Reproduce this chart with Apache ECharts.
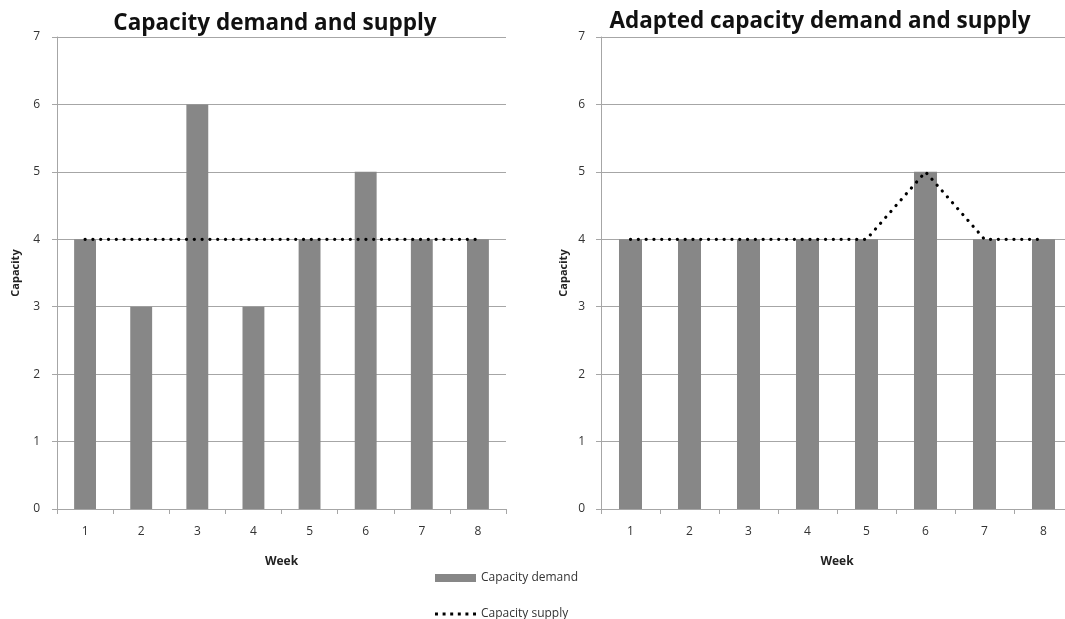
<!DOCTYPE html>
<html><head><meta charset="utf-8">
<script src="https://cdn.jsdelivr.net/npm/echarts@6/dist/echarts.min.js"></script>
<style>html,body{margin:0;padding:0;background:#fff}#c{width:1065px;height:619px}</style>
</head><body><div id="c"></div>
<script>
const weeks = ['1','2','3','4','5','6','7','8'];
const demandLeft = [4,3,6,3,4,5,4,4];
const supplyLeft = [4,4,4,4,4,4,4,4];
const demandRight = [4,4,4,4,4,5,4,4];
const supplyRight = [4,4,4,4,4,5,4,4];
const titleLeft = 'Capacity demand and supply';
const titleRight = 'Adapted capacity demand and supply';

const FONT = '"Open Sans", "DejaVu Sans", sans-serif';
const gridColor = '#a6a6a6';
function xAxis(i){
  return {type:'category', gridIndex:i, data:weeks, boundaryGap:true,
    name:'Week', nameLocation:'middle', nameGap:47,
    nameTextStyle:{fontFamily:FONT, fontWeight:'bold', fontSize:12, color:'#222'},
    axisLine:{lineStyle:{color:gridColor, width:1}},
    axisTick:{show:true, length:5, lineStyle:{color:gridColor}},
    axisLabel:{fontFamily:FONT, fontSize:12, color:'#333', margin:17}};
}
function yAxis(i){
  return {type:'value', gridIndex:i, min:0, max:7, interval:1,
    name:'Capacity', nameLocation:'middle', nameGap:i===0?36:32, nameRotate:90,
    nameTextStyle:{fontFamily:FONT, fontWeight:'bold', fontSize:11, color:'#222'},
    axisLine:{show:true, lineStyle:{color:gridColor, width:1}},
    axisTick:{show:true, length:5, lineStyle:{color:gridColor}},
    splitLine:{lineStyle:{color:gridColor, width:1}},
    axisLabel:{fontFamily:FONT, fontSize:12, color:'#333', margin:i===0?17:16}};
}
const barStyle = {color:'#878787'};
const lineStyle = {color:'#000', width:3.2, type:[0.1,7.7], cap:'round'};
const dotsIcon = 'path://M0,0h3v3h-3z M7.7,0h3v3h-3z M15.4,0h3v3h-3z M23.1,0h3v3h-3z M30.8,0h3v3h-3z M38.5,0h3v3h-3z';
const legendText = {fontFamily:FONT, fontSize:12, color:'#333'};
const chart = echarts.init(document.getElementById('c'), null, {renderer:'canvas'});
chart.setOption({
  animation:false,
  title:[
    {text:titleLeft, left:270, top:7, textAlign:'center', textStyle:{fontFamily:FONT, fontWeight:'bold', fontSize:22.5, color:'#111'}},
    {text:titleRight, left:815, top:5, textAlign:'center', textStyle:{fontFamily:FONT, fontWeight:'bold', fontSize:22.5, color:'#111'}}
  ],
  grid:[
    {left:57, top:37, width:449, height:472, outerBoundsMode:'none'},
    {left:601, top:37, width:472, height:472, outerBoundsMode:'none'}
  ],
  xAxis:[xAxis(0), xAxis(1)],
  yAxis:[yAxis(0), yAxis(1)],
  legend:[
    {left:435, top:572, padding:0, itemWidth:41, itemHeight:8, textStyle:legendText,
      data:[{name:'Capacity demand', icon:'rect'}]},
    {left:435, top:608, padding:0, itemWidth:41, itemHeight:8, textStyle:legendText,
      data:[{name:'Capacity supply', icon:dotsIcon}]}
  ],
  series:[
    {name:'Capacity demand', type:'bar', xAxisIndex:0, yAxisIndex:0, data:demandLeft, barWidth:'39%', itemStyle:barStyle},
    {name:'Capacity supply', type:'line', xAxisIndex:0, yAxisIndex:0, data:supplyLeft, symbol:'none', itemStyle:{color:'#000'}, lineStyle:lineStyle, z:5},
    {name:'Capacity demand', type:'bar', xAxisIndex:1, yAxisIndex:1, data:demandRight, barWidth:'39%', itemStyle:barStyle},
    {name:'Capacity supply', type:'line', xAxisIndex:1, yAxisIndex:1, data:supplyRight, symbol:'none', itemStyle:{color:'#000'}, lineStyle:lineStyle, z:5}
  ]
});
</script></body></html>
